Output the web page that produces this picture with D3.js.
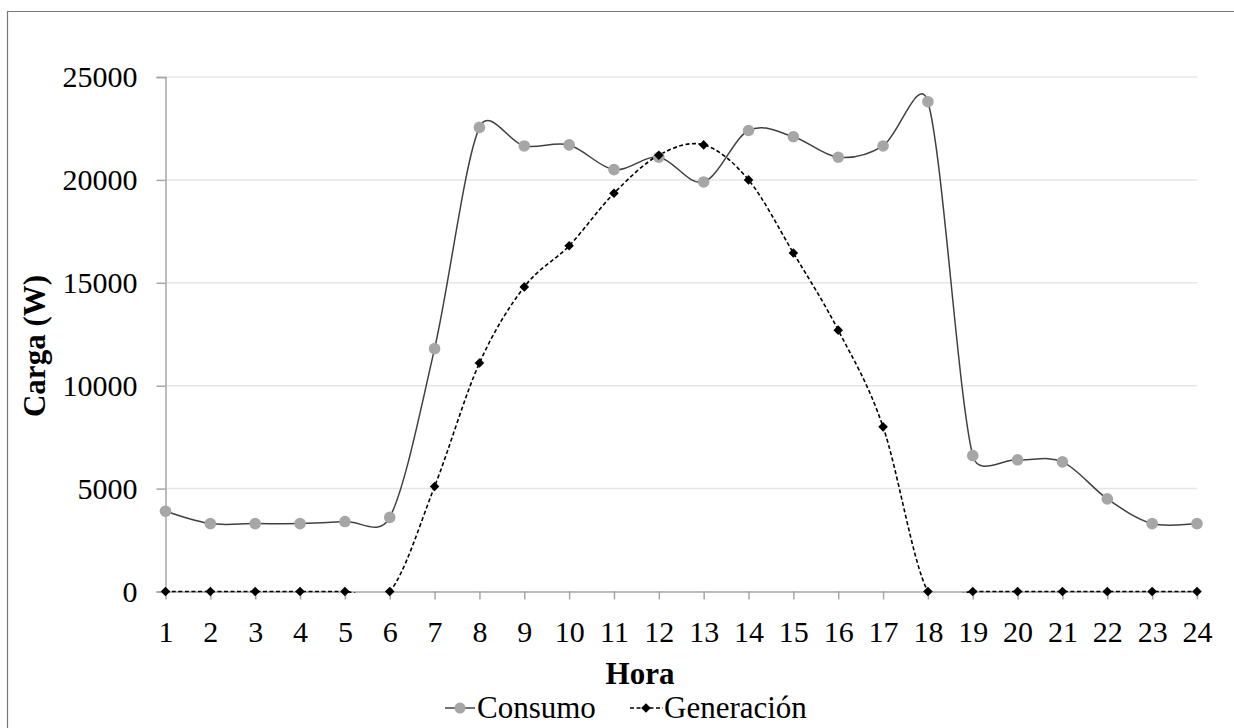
<!DOCTYPE html>
<html><head><meta charset="utf-8">
<script src="https://cdn.jsdelivr.net/npm/d3@7"></script>
<style>body{margin:0;background:#fff;overflow:hidden}svg{display:block}text{font-family:"Liberation Serif","Times New Roman",serif;fill:#000}</style>
</head><body>
<script>
const horas = d3.range(1,25).map(String);
const consumo = [3900,3300,3300,3300,3400,3600,11800,22550,21650,21700,20500,21100,19900,22400,22100,21100,21650,23800,6600,6400,6300,4500,3300,3300];
const generacion = [0,0,0,0,0,0,5100,11100,14800,16800,19350,21200,21700,20000,16450,12700,8000,0,0,0,0,0,0,0];
const yTicks = [0,5000,10000,15000,20000,25000];

const W=1234,H=728;
const svg=d3.select("body").append("svg").attr("width",W).attr("height",H);
svg.append("path").attr("d","M7.5,728V11.5H1234").attr("fill","none").attr("stroke","#777").attr("stroke-width",1.2);

const x=d3.scalePoint().domain(horas).range([165.5,1197]);
const y=d3.scaleLinear().domain([0,25000]).range([591.5,77]);

svg.append("defs").append("clipPath").attr("id","plot").append("rect")
 .attr("x",x.range()[0]-2).attr("y",y(25000)-2).attr("width",x.range()[1]-x.range()[0]+4).attr("height",y(0)-y(25000)+3.5);

// gridlines
svg.append("g").selectAll("line").data(yTicks.slice(1)).join("line")
 .attr("x1",165.5).attr("x2",1197).attr("y1",d=>y(d)).attr("y2",d=>y(d))
 .attr("stroke","#e6e6e6").attr("stroke-width",1.5);

// y axis
const ya=svg.append("g").attr("transform","translate(165.5,0)")
 .call(d3.axisLeft(y).tickValues(yTicks).tickSize(9).tickPadding(19).tickFormat(d3.format("d")));
ya.select(".domain").attr("stroke","#a6a6a6").attr("stroke-width",1.5);
ya.selectAll(".tick line").attr("stroke","#a6a6a6").attr("stroke-width",1.5);
ya.selectAll("text").attr("font-size",30).attr("font-family","Liberation Serif").attr("fill","#000");

// x axis
const xa=svg.append("g").attr("transform","translate(0,591.5)")
 .call(d3.axisBottom(x).tickSize(8).tickSizeOuter(0).tickPadding(21));
xa.select(".domain").attr("stroke","#a6a6a6").attr("stroke-width",1.5);
xa.selectAll(".tick line").attr("stroke","#a6a6a6").attr("stroke-width",1.5);
xa.selectAll("text").attr("font-size",30).attr("font-family","Liberation Serif").attr("fill","#000");

// Excel-style smoothed line (Bezier, control arm limited to half the segment)
function smoothPath(vals){
  const pts=vals.map((v,i)=>[x(horas[i]),y(v)]);
  const dist=(a,b)=>Math.hypot(b[0]-a[0],b[1]-a[1]);
  const p=d3.path(); p.moveTo(pts[0][0],pts[0][1]);
  for(let i=0;i<pts.length-1;i++){
    const P0=pts[i-1]||pts[i],P1=pts[i],P2=pts[i+1],P3=pts[i+2]||pts[i+1];
    const d02=dist(P0,P2),d12=dist(P1,P2),d13=dist(P1,P3);
    const f1=d02>0?Math.min(1/6,d12/(2*d02)):0;
    const f2=d13>0?Math.min(1/6,d12/(2*d13)):0;
    p.bezierCurveTo(P1[0]+(P2[0]-P0[0])*f1,P1[1]+(P2[1]-P0[1])*f1,
                    P2[0]-(P3[0]-P1[0])*f2,P2[1]-(P3[1]-P1[1])*f2,P2[0],P2[1]);
  }
  return p.toString();
}

const lines=svg.append("g").attr("clip-path","url(#plot)");
lines.append("path").attr("d",smoothPath(consumo)).attr("fill","none").attr("stroke","#404040").attr("stroke-width",1.5);
lines.append("path").attr("d",smoothPath(generacion)).attr("fill","none").attr("stroke","#000").attr("stroke-width",1.6).attr("stroke-dasharray","4,2.5");

svg.append("g").selectAll("circle").data(consumo).join("circle")
 .attr("cx",(d,i)=>x(horas[i])).attr("cy",d=>y(d)).attr("r",5.8).attr("fill","#a6a6a6");
const dia=d3.symbol().type(d3.symbolSquare).size(46);
svg.append("g").selectAll("path").data(generacion).join("path")
 .attr("d",dia).attr("transform",(d,i)=>`translate(${x(horas[i])},${y(d)}) rotate(45)`).attr("fill","#000");

// axis titles
svg.append("text").attr("x",640).attr("y",684).attr("text-anchor","middle").attr("font-size",31).attr("font-weight","bold").text("Hora");
svg.append("text").attr("transform","translate(45,346) rotate(-90)").attr("text-anchor","middle").attr("font-size",31).attr("font-weight","bold").text("Carga (W)");

// legend
const lg=svg.append("g");
lg.append("line").attr("x1",445).attr("x2",475).attr("y1",708).attr("y2",708).attr("stroke","#404040").attr("stroke-width",1.5);
lg.append("circle").attr("cx",460).attr("cy",708).attr("r",5.5).attr("fill","#a6a6a6");
lg.append("text").attr("x",477).attr("y",718).attr("font-size",31).text("Consumo");
lg.append("line").attr("x1",630).attr("x2",663).attr("y1",708).attr("y2",708).attr("stroke","#000").attr("stroke-width",1.5).attr("stroke-dasharray","4,2.5");
lg.append("path").attr("d",dia).attr("transform","translate(646,708) rotate(45)").attr("fill","#000");
lg.append("text").attr("x",664).attr("y",718).attr("font-size",31).text("Generación");
</script>
</body></html>
